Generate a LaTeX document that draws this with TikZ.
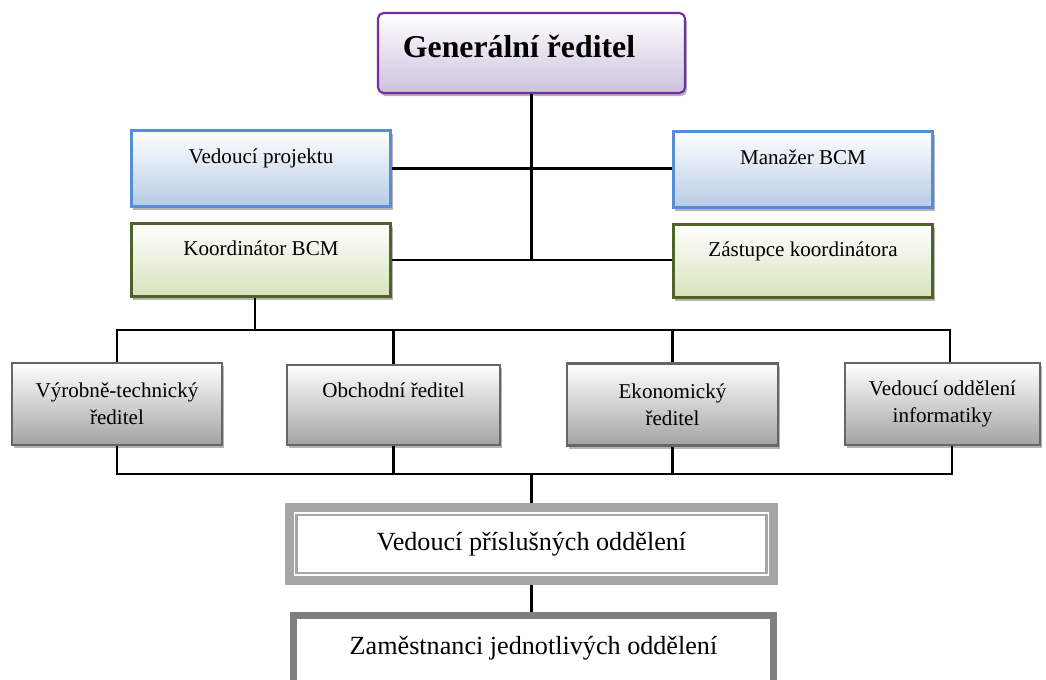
\documentclass[tikz,border=0pt]{standalone}
\usepackage{fontspec}
\setmainfont{Liberation Serif}
\usetikzlibrary{shadows}
\definecolor{chiefline}{HTML}{7030A0}
\definecolor{chieffill}{HTML}{CDC1DE}
\definecolor{bcmline}{HTML}{558ED5}
\definecolor{bcmfill}{HTML}{B7CBE5}
\definecolor{coordline}{HTML}{4F6228}
\definecolor{coordfill}{HTML}{D6E3BC}
\definecolor{dirline}{HTML}{666666}
\definecolor{dirfill}{HTML}{A3A3A3}
\definecolor{deptline}{HTML}{A6A6A6}
\definecolor{staffline}{HTML}{7F7F7F}
\definecolor{ink}{HTML}{000000}
\tikzset{
  every node/.style={font=\fontsize{15}{19}\selectfont,text=ink,align=center,inner sep=2pt},
  orgbox/.style={rectangle,shading=axis,top color=white,line width=1.5pt,
    drop shadow={shadow xshift=1.4pt,shadow yshift=-2.2pt,fill=black!32,opacity=.9}},
  chief/.style={orgbox,draw=chiefline,bottom color=chieffill,rounded corners=4pt,
    font=\fontsize{22.6}{27}\selectfont\bfseries,minimum width=7.675cm,minimum height=2cm,
    align=flush left,text width=6.425cm,inner xsep=0.625cm,text height=16pt,text depth=10pt},
  project/.style={orgbox,draw=bcmline,bottom color=bcmfill,minimum width=6.475cm,
    minimum height=1.9cm,text height=8pt,text depth=15pt},
  coord/.style={orgbox,draw=coordline,bottom color=coordfill,minimum width=6.475cm,
    minimum height=1.825cm,text height=8pt,text depth=15pt},
  director/.style={orgbox,draw=dirline,bottom color=dirfill,line width=2pt,minimum height=2.05cm},
  single/.style={text height=8pt,text depth=19pt},
  dept/.style={rectangle,draw=deptline,fill=white,line width=6.4pt,font=\fontsize{18.6}{22}\selectfont,
    minimum width=12.1cm,minimum height=1.825cm},
  deptinner/.style={draw=deptline,line width=2.1pt},
  staff/.style={rectangle,draw=staffline,fill=white,line width=5pt,font=\fontsize{18.6}{22}\selectfont,
    minimum width=12cm,minimum height=2.1125cm,text height=13pt,text depth=17pt},
  link/.style={draw=ink,line width=1.45pt}
}
\begin{document}
\begin{tikzpicture}[x=0.025cm,y=-0.025cm]
  \useasboundingbox (0,0) rectangle (1046,679);
  % Management level: director general, project staff and BCM roles.
  \node[chief] (gen) at (531.5,53) {Generální ředitel};
  \node[project] (vp) at (261,168.5) {Vedoucí projektu};
  \node[project] (man) at (803,169.5) {Manažer BCM};
  \node[coord] (kor) at (261,260) {Koordinátor BCM};
  \node[coord] (zas) at (803,261) {Zástupce koordinátora};
  \draw[link] (gen.south) -- (gen.south |- kor.east);
  \draw[link] (vp.east) -- (vp.east -| man.west);
  \draw[link] (kor.east) -- (kor.east -| zas.west);

  % Directors row.
  \node[director,minimum width=5.25cm] (vt) at (117,404) {Výrobně-technický\\ředitel};
  \node[director,single,minimum width=5.325cm,minimum height=2cm] (ob) at (393.5,405) {Obchodní ředitel};
  \node[director,minimum width=5.275cm] (ek) at (672.5,404.5) {Ekonomický\\ředitel};
  \node[director,minimum width=4.875cm] (vi) at (942.5,404) {Vedoucí oddělení\\informatiky};
  \coordinate (topbus) at (0,330);
  \coordinate (botbus) at (0,474);
  \draw[link] ([xshift=-4.2pt]kor.south) -- ([xshift=-4.2pt]kor.south |- topbus);
  \draw[link] (vt.north) -- (vt.north |- topbus) -- ([xshift=5pt]vi.north |- topbus) -- ([xshift=5pt]vi.north);
  \draw[link] (vt.south) -- (vt.south |- botbus) -- ([xshift=7pt]vi.south |- botbus) -- ([xshift=7pt]vi.south);
  \foreach \n in {ob,ek}
    \draw[link] (\n.north) -- (\n.north |- topbus)
      (\n.south) -- (\n.south |- botbus);

  % Department heads and staff.
  \node[dept] (vedp) at (531.5,544) {Vedoucí příslušných oddělení};
  \draw[deptinner] ([shift={(12,12)}]vedp.north west) rectangle ([shift={(-12,-12)}]vedp.south east);
  \node[staff] (zam) at (533.5,657.75) {Zaměstnanci jednotlivých oddělení};
  \draw[link] (vedp.north) -- (vedp.north |- botbus);
  \draw[link] (vedp.south) -- (vedp.south |- zam.north);
\end{tikzpicture}
\end{document}
